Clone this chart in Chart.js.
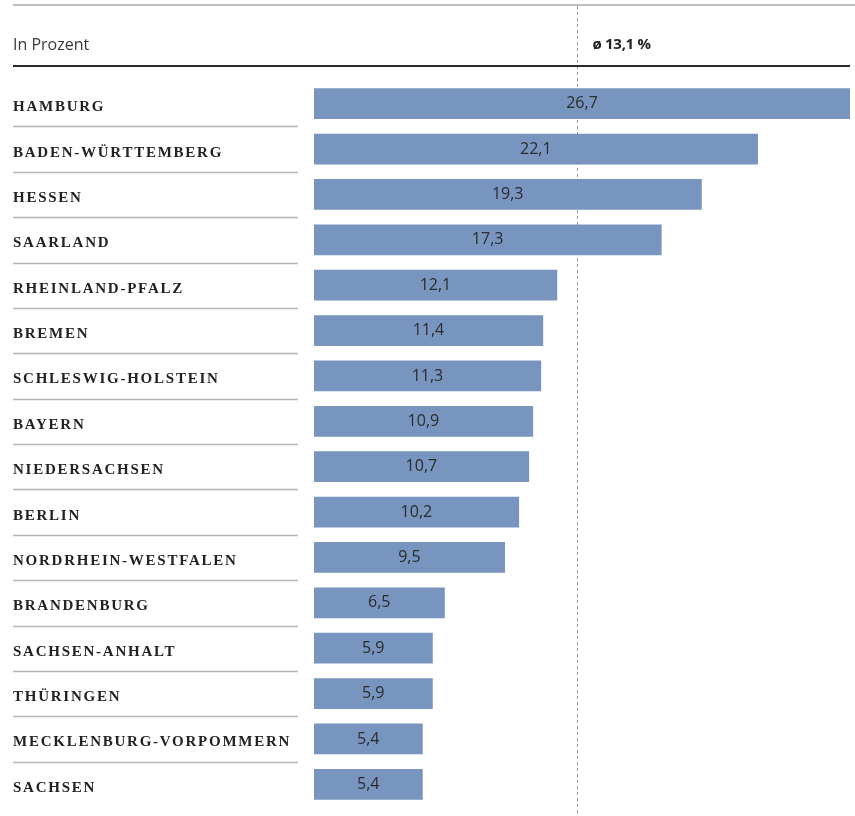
<!DOCTYPE html>
<html>
<head>
<meta charset="utf-8">
<script src="https://cdn.jsdelivr.net/npm/chart.js@4"></script>
<style>
body{margin:0;background:#fff}
canvas{display:block}
</style>
</head>
<body>
<canvas id="grafico" width="855" height="816"></canvas>
<script>

const categories = ["HAMBURG","BADEN-WÜRTTEMBERG","HESSEN","SAARLAND","RHEINLAND-PFALZ","BREMEN","SCHLESWIG-HOLSTEIN","BAYERN","NIEDERSACHSEN","BERLIN","NORDRHEIN-WESTFALEN","BRANDENBURG","SACHSEN-ANHALT","THÜRINGEN","MECKLENBURG-VORPOMMERN","SACHSEN"]
const values = [26.7,22.1,19.3,17.3,12.1,11.4,11.3,10.9,10.7,10.2,9.5,6.5,5.9,5.9,5.4,5.4]
const average = 13.1
const unitLabel = "In Prozent"
const averageLabel = "ø 13,1 %"

function fmt(v){
  return v.toFixed(1).replace(".",",")
}

// header, dashed average line, left labels with separators
const frame = {
  id:"frame",
  beforeDatasetsDraw(chart){
    let ctx = chart.ctx
    let x = chart.scales.x
    let ax = Math.round(x.getPixelForValue(average))+0.5
    ctx.save()
    ctx.strokeStyle="#9a9a9a"
    ctx.lineWidth=1
    ctx.setLineDash([3,3])
    ctx.beginPath()
    ctx.moveTo(ax,6)
    ctx.lineTo(ax,816)
    ctx.stroke()
    ctx.setLineDash([])

    ctx.strokeStyle="#a8a8a8"
    ctx.lineWidth=1.5
    ctx.beginPath()
    ctx.moveTo(13,5)
    ctx.lineTo(855,5)
    ctx.stroke()

    ctx.strokeStyle="#2a2a2a"
    ctx.lineWidth=2
    ctx.beginPath()
    ctx.moveTo(13,66)
    ctx.lineTo(850,66)
    ctx.stroke()

    ctx.fillStyle="#3a3a3a"
    ctx.textBaseline="middle"
    ctx.font="16px 'Open Sans'"
    ctx.fillText(unitLabel,13,45)
    ctx.fillStyle="#222"
    ctx.font="bold 15px 'Open Sans'"
    ctx.letterSpacing="-0.3px"
    ctx.fillText(averageLabel,ax+15,45)

    let y = chart.scales.y
    ctx.textBaseline="alphabetic"
    ctx.font="bold 15px 'Liberation Serif'"
    ctx.letterSpacing="1.75px"
    ctx.fillStyle="#222"
    categories.forEach((c,i)=>{
      let cy = y.getPixelForValue(i)
      ctx.fillText(c,13,cy+7.5)
      if(i<categories.length-1){
        let sy = Math.round((cy+y.getPixelForValue(i+1))/2)+0.5
        ctx.strokeStyle="#b5b5b5"
        ctx.lineWidth=1.3
        ctx.beginPath()
        ctx.moveTo(13,sy)
        ctx.lineTo(298,sy)
        ctx.stroke()
      }
    })
    ctx.restore()
  },
  afterDatasetsDraw(chart){
    let ctx = chart.ctx
    ctx.save()
    ctx.font="16px 'Open Sans'"
    ctx.fillStyle="#2b2b2b"
    ctx.textAlign="center"
    ctx.textBaseline="middle"
    chart.getDatasetMeta(0).data.forEach((bar,i)=>{
      ctx.fillText(fmt(values[i]),(bar.base+bar.x)/2,bar.y)
    })
    ctx.restore()
  }
}

new Chart(document.getElementById("grafico"),{
  type:"bar",
  data:{
    labels:categories,
    datasets:[{
      data:values,
      backgroundColor:"#7895c0",
      barThickness:30
    }]
  },
  options:{
    indexAxis:"y",
    responsive:false,
    animation:false,
    layout:{padding:{left:314,right:5,top:81,bottom:9}},
    plugins:{legend:{display:false},tooltip:{enabled:false}},
    scales:{
      x:{display:false,min:0,max:26.7},
      y:{display:false}
    }
  },
  plugins:[frame]
})

</script>
</body>
</html>
